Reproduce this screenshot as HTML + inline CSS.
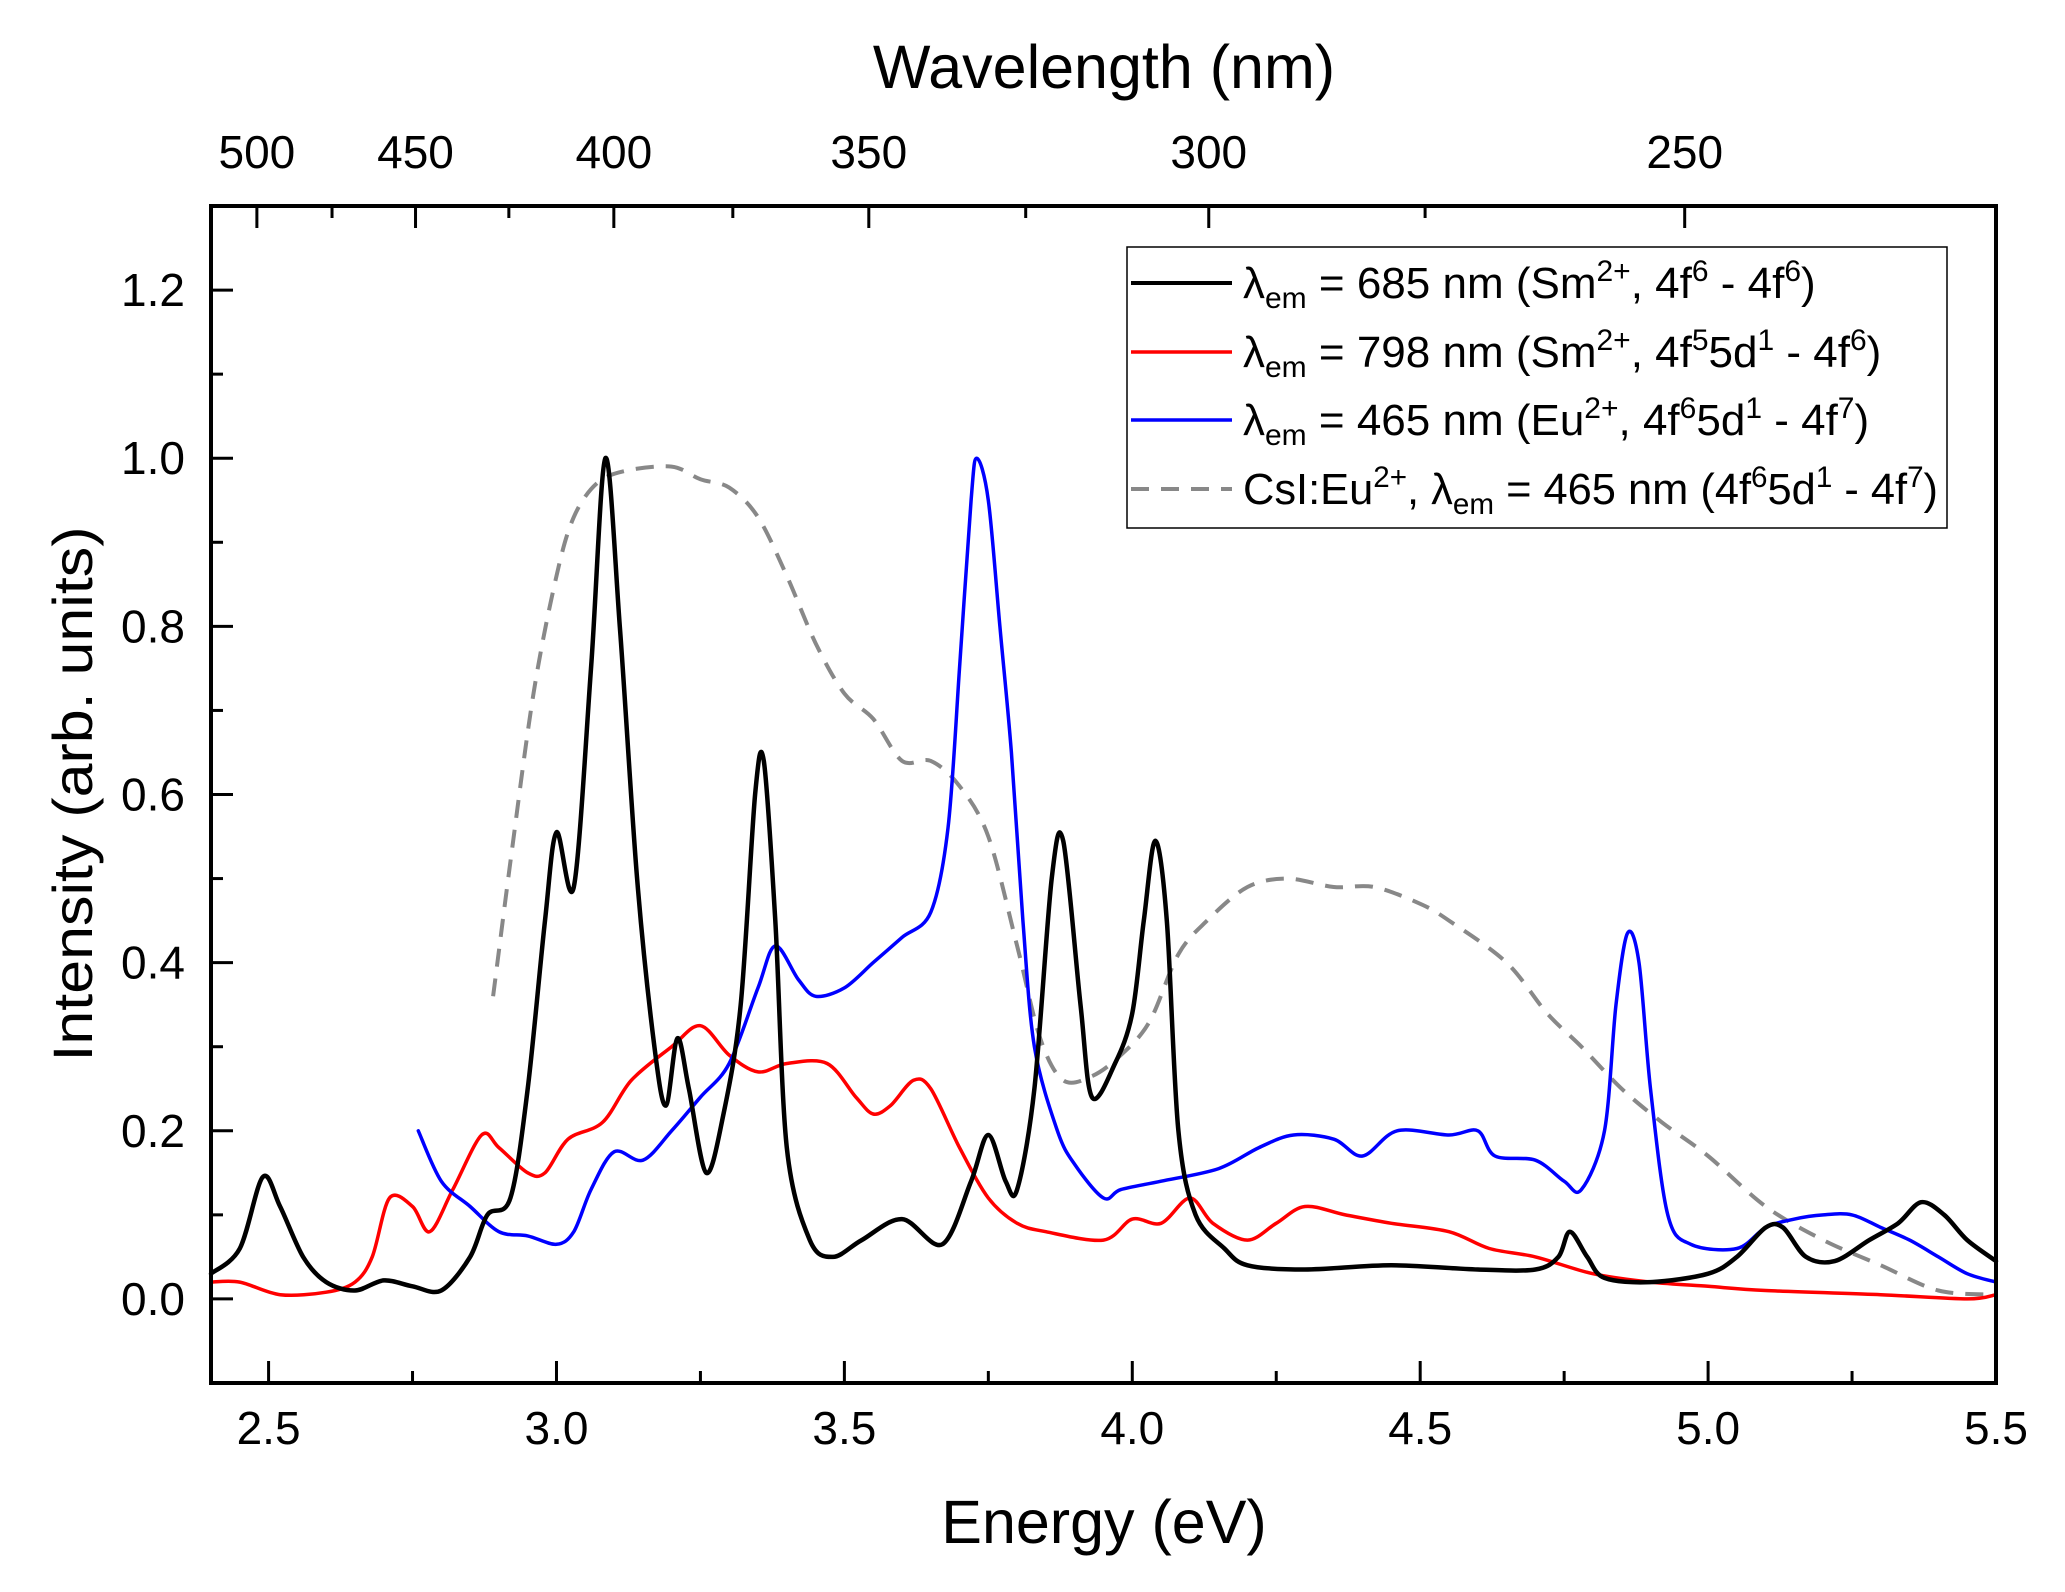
<!DOCTYPE html>
<html><head><meta charset="utf-8"><style>
html,body{margin:0;padding:0;background:#fff;}
svg{display:block;font-family:"Liberation Sans",Arial,sans-serif;}
</style></head><body>
<svg id="chart" width="2065" height="1592" viewBox="0 0 2065 1592" xmlns="http://www.w3.org/2000/svg">
<rect width="2065" height="1592" fill="#fff"/>
<g id="plot"></g>
<g id="axes"></g>
<text x="1104" y="88" font-size="61" text-anchor="middle">Wavelength (nm)</text>
<text x="1104" y="1543" font-size="61" text-anchor="middle">Energy (eV)</text>
<text transform="translate(92,794) rotate(-90)" font-size="56" text-anchor="middle" textLength="535" lengthAdjust="spacingAndGlyphs">Intensity (arb. units)</text>
<g id="legend">
<rect x="1127" y="247" width="820" height="281" fill="#fff" stroke="#000" stroke-width="1.5"/>
<line x1="1131" y1="283" x2="1232" y2="283" stroke="#000" stroke-width="4"/>
<text x="1243" y="298" font-size="44">λ<tspan font-size="30" dy="10">em</tspan><tspan dy="-10"> = 685 nm (Sm</tspan><tspan font-size="30" dy="-17">2+</tspan><tspan dy="17">, 4f</tspan><tspan font-size="30" dy="-17">6</tspan><tspan dy="17"> - 4f</tspan><tspan font-size="30" dy="-17">6</tspan><tspan dy="17">)</tspan></text>
<line x1="1131" y1="352" x2="1232" y2="352" stroke="#f00" stroke-width="3.5"/>
<text x="1243" y="367" font-size="44">λ<tspan font-size="30" dy="10">em</tspan><tspan dy="-10"> = 798 nm (Sm</tspan><tspan font-size="30" dy="-17">2+</tspan><tspan dy="17">, 4f</tspan><tspan font-size="30" dy="-17">5</tspan><tspan dy="17">5d</tspan><tspan font-size="30" dy="-17">1</tspan><tspan dy="17"> - 4f</tspan><tspan font-size="30" dy="-17">6</tspan><tspan dy="17">)</tspan></text>
<line x1="1131" y1="420" x2="1232" y2="420" stroke="#00f" stroke-width="3.5"/>
<text x="1243" y="435" font-size="44">λ<tspan font-size="30" dy="10">em</tspan><tspan dy="-10"> = 465 nm (Eu</tspan><tspan font-size="30" dy="-17">2+</tspan><tspan dy="17">, 4f</tspan><tspan font-size="30" dy="-17">6</tspan><tspan dy="17">5d</tspan><tspan font-size="30" dy="-17">1</tspan><tspan dy="17"> - 4f</tspan><tspan font-size="30" dy="-17">7</tspan><tspan dy="17">)</tspan></text>
<line x1="1131" y1="489" x2="1232" y2="489" stroke="#888" stroke-width="4" stroke-dasharray="18,12"/>
<text x="1243" y="504" font-size="44" textLength="695" lengthAdjust="spacingAndGlyphs">CsI:Eu<tspan font-size="30" dy="-17">2+</tspan><tspan dy="17">, λ</tspan><tspan font-size="30" dy="10">em</tspan><tspan dy="-10"> = 465 nm (4f</tspan><tspan font-size="30" dy="-17">6</tspan><tspan dy="17">5d</tspan><tspan font-size="30" dy="-17">1</tspan><tspan dy="17"> - 4f</tspan><tspan font-size="30" dy="-17">7</tspan><tspan dy="17">)</tspan></text>
</g>
</svg>
<script>
const xTicks=[2.5,3.0,3.5,4.0,4.5,5.0,5.5];
const yTicks=[0.0,0.2,0.4,0.6,0.8,1.0,1.2];
const wlTicks=[500,450,400,350,300,250];
const wlMinor=[475,425,375,325,275];
const e685=[2.40,2.45,2.49,2.52,2.56,2.60,2.65,2.70,2.75,2.80,2.85,2.88,2.92,2.95,2.98,3.00,3.03,3.06,3.085,3.11,3.14,3.17,3.19,3.21,3.23,3.26,3.29,3.32,3.345,3.36,3.38,3.40,3.44,3.48,3.53,3.60,3.67,3.72,3.75,3.78,3.80,3.83,3.86,3.88,3.91,3.93,3.97,4.00,4.02,4.04,4.06,4.08,4.11,4.16,4.20,4.30,4.45,4.60,4.70,4.74,4.76,4.79,4.82,4.90,5.00,5.05,5.10,5.13,5.17,5.22,5.28,5.33,5.37,5.41,5.45,5.50];
const i685=[0.03,0.06,0.145,0.11,0.05,0.02,0.01,0.022,0.015,0.01,0.05,0.10,0.12,0.25,0.45,0.555,0.49,0.75,1.0,0.8,0.50,0.30,0.23,0.31,0.25,0.15,0.22,0.35,0.60,0.64,0.45,0.18,0.07,0.05,0.07,0.095,0.065,0.14,0.195,0.14,0.13,0.25,0.50,0.545,0.35,0.24,0.28,0.34,0.45,0.545,0.45,0.20,0.10,0.06,0.04,0.035,0.04,0.035,0.035,0.05,0.08,0.05,0.025,0.02,0.03,0.05,0.085,0.085,0.05,0.045,0.07,0.09,0.115,0.10,0.07,0.045];
const e798=[2.40,2.45,2.52,2.60,2.65,2.68,2.71,2.75,2.78,2.82,2.87,2.90,2.95,2.98,3.02,3.08,3.13,3.20,3.25,3.30,3.35,3.40,3.47,3.52,3.55,3.58,3.62,3.65,3.70,3.75,3.80,3.85,3.95,4.00,4.05,4.10,4.14,4.20,4.25,4.30,4.37,4.45,4.55,4.62,4.70,4.80,4.90,5.00,5.10,5.30,5.45,5.50];
const i798=[0.02,0.02,0.005,0.008,0.02,0.05,0.12,0.11,0.08,0.13,0.195,0.18,0.15,0.15,0.19,0.21,0.26,0.30,0.325,0.29,0.27,0.28,0.28,0.24,0.22,0.23,0.26,0.25,0.18,0.12,0.09,0.08,0.07,0.095,0.09,0.12,0.09,0.07,0.09,0.11,0.10,0.09,0.08,0.06,0.05,0.03,0.02,0.015,0.01,0.005,0.0,0.005];
const e465=[2.76,2.80,2.85,2.90,2.95,3.00,3.03,3.06,3.10,3.15,3.20,3.25,3.30,3.35,3.38,3.42,3.45,3.50,3.55,3.60,3.65,3.68,3.70,3.72,3.73,3.75,3.77,3.79,3.81,3.83,3.87,3.90,3.95,3.98,4.05,4.15,4.22,4.28,4.35,4.40,4.46,4.55,4.60,4.63,4.70,4.75,4.78,4.82,4.84,4.86,4.88,4.90,4.93,4.97,5.05,5.10,5.15,5.20,5.25,5.30,5.35,5.40,5.45,5.50];
const i465=[0.20,0.14,0.11,0.08,0.075,0.065,0.08,0.13,0.175,0.165,0.20,0.24,0.28,0.37,0.42,0.38,0.36,0.37,0.40,0.43,0.46,0.56,0.75,0.95,1.0,0.95,0.80,0.65,0.45,0.30,0.20,0.16,0.12,0.13,0.14,0.155,0.18,0.195,0.19,0.17,0.20,0.195,0.20,0.17,0.165,0.14,0.13,0.20,0.35,0.435,0.40,0.25,0.10,0.065,0.06,0.085,0.095,0.10,0.10,0.085,0.07,0.05,0.03,0.02];
const eCsI=[2.89,2.92,2.96,3.00,3.03,3.07,3.12,3.20,3.25,3.30,3.35,3.40,3.45,3.50,3.55,3.60,3.65,3.70,3.75,3.80,3.84,3.88,3.93,3.98,4.03,4.08,4.13,4.20,4.27,4.35,4.42,4.50,4.55,4.65,4.72,4.78,4.85,4.92,5.00,5.10,5.20,5.30,5.40,5.50];
const iCsI=[0.36,0.52,0.72,0.86,0.93,0.97,0.985,0.99,0.975,0.965,0.93,0.86,0.78,0.72,0.69,0.64,0.64,0.61,0.55,0.42,0.31,0.26,0.265,0.29,0.33,0.41,0.45,0.49,0.50,0.49,0.49,0.47,0.45,0.40,0.34,0.30,0.25,0.21,0.17,0.11,0.07,0.04,0.01,0.005];

const L=211,R=1996,T=206,B=1383,XMIN=2.4,XMAX=5.5,YMIN=-0.1,YMAX=1.3;
const sx=e=>L+(e-XMIN)/(XMAX-XMIN)*(R-L);
const sy=v=>B-(v-YMIN)/(YMAX-YMIN)*(B-T);
const NS='http://www.w3.org/2000/svg';
const plot=document.getElementById('plot'), axes=document.getElementById('axes');
function mk(tag,attrs,parent){const el=document.createElementNS(NS,tag);for(const k in attrs)el.setAttribute(k,attrs[k]);parent.appendChild(el);return el;}
function series(xs,ys,color,w,dash,name){
  const P=xs.map((x,i)=>[sx(x),sy(ys[i])]);
  let d='M'+P[0][0].toFixed(1)+','+P[0][1].toFixed(1);
  const k=0.16;
  for(let i=0;i<P.length-1;i++){
    const p0=P[Math.max(0,i-1)],p1=P[i],p2=P[i+1],p3=P[Math.min(P.length-1,i+2)];
    const c1=[p1[0]+(p2[0]-p0[0])*k,p1[1]+(p2[1]-p0[1])*k];
    const c2=[p2[0]-(p3[0]-p1[0])*k,p2[1]-(p3[1]-p1[1])*k];
    d+='C'+c1[0].toFixed(1)+','+c1[1].toFixed(1)+' '+c2[0].toFixed(1)+','+c2[1].toFixed(1)+' '+p2[0].toFixed(1)+','+p2[1].toFixed(1);
  }
  const p=mk('path',{d:d,fill:'none',stroke:color,'stroke-width':w,'stroke-linejoin':'round','stroke-linecap':dash?'butt':'round'},plot);
  if(dash)p.setAttribute('stroke-dasharray',dash);
  
  
}
series(eCsI,iCsI,'#888',4,'18,12','series-csi-eu');
series(e798,i798,'#f00',3.5,null,'series-798nm');
series(e465,i465,'#00f',3.5,null,'series-465nm');
series(e685,i685,'#000',4.5,null,'series-685nm');
const fr=mk('rect',{x:L,y:T,width:R-L,height:B-T,fill:'none',stroke:'#000','stroke-width':4},axes);


for(let v=2.5;v<=5.5001;v+=0.25){
  const major=Math.abs(v*2-Math.round(v*2))<1e-6;
  const t=mk('line',{x1:sx(v),x2:sx(v),y1:B,y2:B-(major?22:12),stroke:'#000','stroke-width':3},axes);
  
  
}
xTicks.forEach(v=>{
  const t=mk('text',{x:sx(v),y:B+61,'font-size':46,'text-anchor':'middle'},axes);t.textContent=v.toFixed(1);
  
  
});
for(let v=0;v<=1.2001;v+=0.1){
  const major=Math.abs(v*5-Math.round(v*5))<1e-6;
  const t=mk('line',{x1:L,x2:L+(major?22:12),y1:sy(v),y2:sy(v),stroke:'#000','stroke-width':3},axes);
  
  
}
yTicks.forEach(v=>{
  const t=mk('text',{x:L-26,y:sy(v)+16,'font-size':46,'text-anchor':'end'},axes);t.textContent=v.toFixed(1);
  
  
});
wlTicks.forEach(w=>{
  const x=sx(1239.84/w);
  const t=mk('line',{x1:x,x2:x,y1:T,y2:T+22,stroke:'#000','stroke-width':3},axes);
  
  
  const lb=mk('text',{x:x,y:T-38,'font-size':46,'text-anchor':'middle'},axes);lb.textContent=w;
  
  
});
wlMinor.forEach(w=>{
  const x=sx(1239.84/w);
  const t=mk('line',{x1:x,x2:x,y1:T,y2:T+12,stroke:'#000','stroke-width':3},axes);
  
  
});
</script>
</body></html>
